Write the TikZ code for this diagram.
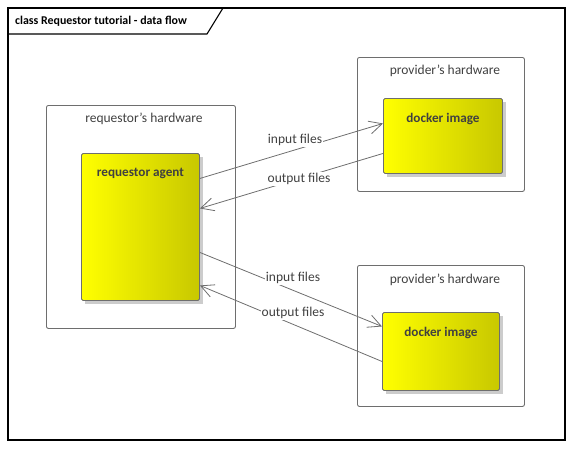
\documentclass[tikz,border=0pt]{standalone}
\usepackage{fontspec}
\setmainfont{Carlito}
\usetikzlibrary{arrows.meta,calc}
\definecolor{txt}{HTML}{404040}
\definecolor{edge}{HTML}{6E6E6E}
\definecolor{darkyel}{HTML}{C8C800}
\tikzset{
  hw/.style={draw=edge, line width=0.9pt, rounded corners=2pt, anchor=north west, inner sep=0pt},
  comp/.style={draw=edge, line width=0.9pt, rounded corners=1.5pt, anchor=north west, inner sep=0pt,
    left color=yellow, middle color=yellow, right color=darkyel},
  hwcap/.style={text=txt, font=\fontsize{13.5}{15}\selectfont, anchor=center, inner sep=0pt},
  bcap/.style={text=txt, font=\fontsize{13.2}{15}\selectfont\bfseries, anchor=center, inner sep=0pt},
  conn/.style={draw=edge, line width=0.8pt, -{Straight Barb[length=13pt,width=13pt,line width=0.8pt]}},
  lbl/.style={text=txt, font=\fontsize{13.5}{15}\selectfont, fill=white, inner sep=1pt},
}
\begin{document}
\begin{tikzpicture}[x=1pt,y=-1pt]
\useasboundingbox (0,0) rectangle (573,448);
% frame
\draw[black, line width=1.1pt] (8,8) rectangle (565,440);
\draw[black, line width=1.1pt] (8,34) -- (207,34) -- (223,8);
\node[anchor=west, font=\fontsize{11.9}{13}\selectfont\bfseries, text=black, inner sep=0pt] (title) at (15,21) {class Requestor tutorial - data flow};

% hardware boxes
\node[hw, minimum width=189pt, minimum height=223pt,
  label={[hwcap, yshift=-14pt, xshift=3pt]north:requestor's hardware}] (rhw) at (46,105) {};
\node[hw, minimum width=167pt, minimum height=134pt,
  label={[hwcap, yshift=-14pt, xshift=4pt]north:provider's hardware}] (phw1) at (357,57) {};
\node[hw, minimum width=167pt, minimum height=141pt,
  label={[hwcap, yshift=-15pt, xshift=4pt]north:provider's hardware}] (phw2) at (357,265) {};

% shadows
\fill[black!20] (85,157) rectangle (203,304);
\fill[black!20] (387,102) rectangle (506,177);
\fill[black!20] (386,316) rectangle (503,394);

% components
\node[comp, minimum width=118pt, minimum height=147pt,
  label={[bcap, yshift=-20pt]north:requestor agent}] (agent) at (81,153) {};
\node[comp, minimum width=119pt, minimum height=75pt,
  label={[bcap, yshift=-21pt]north:docker image}] (dock1) at (383,98) {};
\node[comp, minimum width=117pt, minimum height=78pt,
  label={[bcap, yshift=-21pt]north:docker image}] (dock2) at (382,312) {};

% connectors
\draw[conn] ([yshift=48.5pt]agent.east) -- ([yshift=12.5pt]dock1.west);
\draw[conn] ([yshift=-17.5pt]dock1.west) -- ([yshift=18.5pt]agent.east);
\draw[conn] ([yshift=-25.5pt]agent.east) -- ([yshift=25pt]dock2.west);
\draw[conn] ([yshift=-10pt]dock2.west) -- ([yshift=-58.5pt]agent.east);

% connector labels
\node[lbl] (l1) at (295,140) {input files};
\node[lbl] (l2) at (299,179) {output files};
\node[lbl] (l3) at (293,278) {input files};
\node[lbl] (l4) at (293,313) {output files};
\end{tikzpicture}
\end{document}
